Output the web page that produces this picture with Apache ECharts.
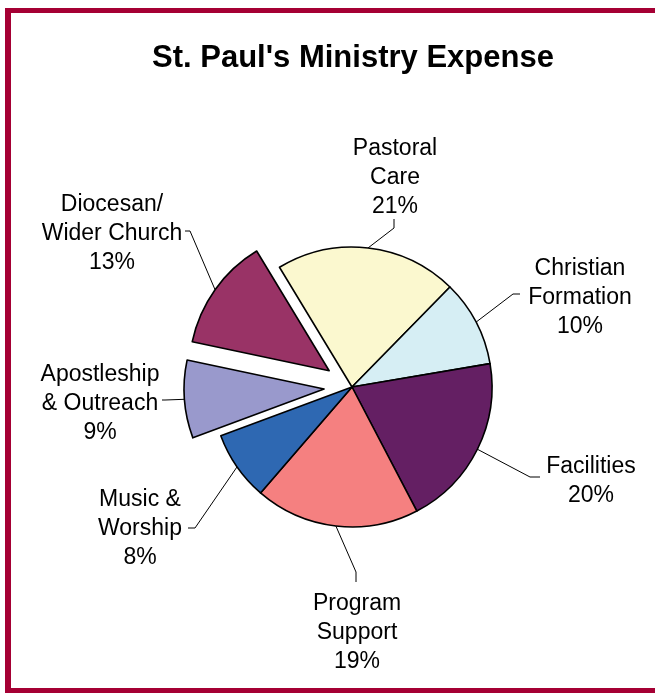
<!DOCTYPE html>
<html>
<head>
<meta charset="utf-8">
<script src="https://cdn.jsdelivr.net/npm/echarts@6/dist/echarts.min.js"></script>
<style>
  html, body { margin: 0; padding: 0; background: #ffffff; }
  #frame { position: absolute; left: 5px; top: 8px; width: 700px; height: 675px; border: 6px solid #A50034; border-top-width: 5px; border-bottom-width: 5px; }
  #chart { position: absolute; left: 0; top: 0; width: 655px; height: 693px; }
</style>
</head>
<body>
<div id="frame"></div>
<div id="chart"></div>
<script>
// ---- data ----
const categories = ['Pastoral\nCare', 'Christian\nFormation', 'Facilities', 'Program\nSupport', 'Music &\nWorship', 'Apostleship\n& Outreach', 'Diocesan/\nWider Church'];
const values = [21, 10, 20, 19, 8, 9, 13];
const exploded = [false, false, false, false, false, true, true];
const colors = ['#FBF8CF', '#D6EEF4', '#641F63', '#F58080', '#2E68B2', '#9999CC', '#993366'];

// ---- layout (label placement) ----
const cx = 352, cy = 387, R = 140, OFFSET = 28, START = 121.2;
const labelPos = [[395, 178], [580, 298], [591, 481], [357, 633], [140, 529], [100, 404], [112, 234]];
const elbow = [[394, 228], [513, 294], [530, 477], [356, 572], [195, 528], [165, 400], [190, 231]];
const lineEnd = [[394, 219], [520, 294], [540, 477], [356, 582], [188, 528], [162, 400], [185, 231]];

const total = values.reduce((a, b) => a + b, 0);
function midAngle(i) {
  let acc = 0;
  for (let k = 0; k < i; k++) acc += values[k];
  return (START - (acc + values[i] / 2) / total * 360) * Math.PI / 180;
}
function offsetOf(i) { return exploded[i] ? OFFSET : 0; }
function arcPoint(i) {
  const a = midAngle(i), r = R + offsetOf(i);
  return [cx + r * Math.cos(a), cy - r * Math.sin(a)];
}

const FONT = 'Liberation Sans, Arial, sans-serif';

// groups: main pie (-1) and each exploded slice on its own shifted centre
const groups = [-1].concat(exploded.map((e, i) => e ? i : null).filter(v => v !== null));

function makeSeries(g) {
  const a = g >= 0 ? midAngle(g) : 0;
  const off = g >= 0 ? OFFSET : 0;
  const center = [cx + off * Math.cos(a), cy - off * Math.sin(a)];
  const visible = i => (g < 0 ? !exploded[i] : i === g);
  return {
    type: 'pie',
    center: center,
    radius: [0, R],
    startAngle: START,
    clockwise: true,
    avoidLabelOverlap: false,
    selectedMode: false,
    silent: true,
    itemStyle: { borderColor: '#000', borderWidth: 1.6 },
    label: {
      show: true,
      position: 'outside',
      formatter: p => p.name + '\n' + p.value + '%',
      fontFamily: FONT,
      fontSize: 23,
      lineHeight: 29,
      color: '#000',
      align: 'center'
    },
    labelLine: { show: true, lineStyle: { color: '#000', width: 1 }, smooth: false },
    emphasis: { disabled: true },
    labelLayout: function (params) {
      const i = params.dataIndex;
      if (!visible(i)) return {};
      return {
        x: labelPos[i][0],
        y: labelPos[i][1],
        align: 'center',
        verticalAlign: 'middle',
        labelLinePoints: [arcPoint(i), elbow[i], lineEnd[i]]
      };
    },
    data: categories.map((name, i) => visible(i) ? {
      name: name,
      value: values[i],
      itemStyle: { color: colors[i] }
    } : {
      name: name,
      value: values[i],
      itemStyle: { color: 'rgba(0,0,0,0)', borderWidth: 0 },
      label: { show: false },
      labelLine: { show: false }
    })
  };
}

const chart = echarts.init(document.getElementById('chart'), null, { renderer: 'canvas' });
chart.setOption({
  animation: false,
  title: {
    text: "St. Paul's Ministry Expense",
    left: 152,
    top: 43,
    padding: 0,
    textStyle: { fontFamily: FONT, fontSize: 31, fontWeight: 'bold', color: '#000' }
  },
  series: groups.map(makeSeries)
});
</script>
</body>
</html>
